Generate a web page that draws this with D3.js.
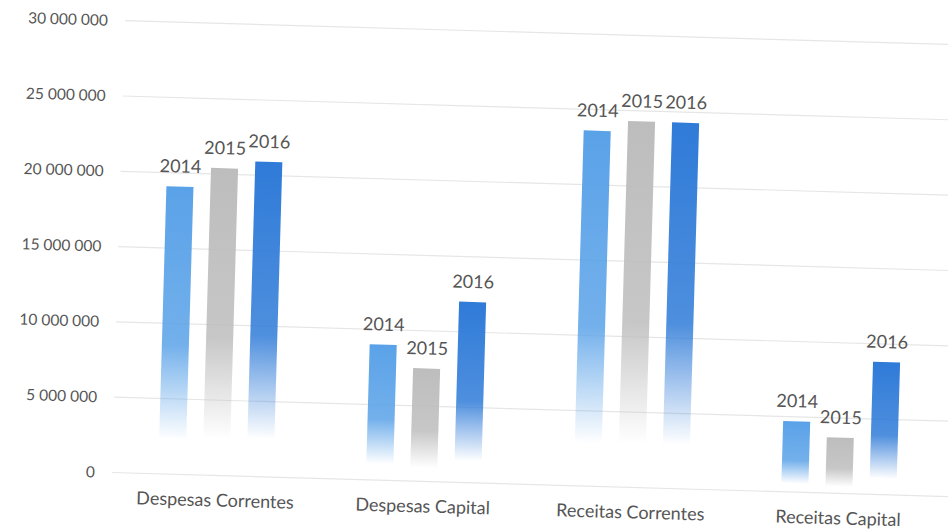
<!DOCTYPE html>
<html>
<head>
<meta charset="utf-8">
<script src="https://cdn.jsdelivr.net/npm/d3@7"></script>
<style>
  body { margin: 0; background: #fff; }
  text { font-family: Lato, "Open Sans", sans-serif; fill: #555555; }
</style>
</head>
<body>
<div id="chart"></div>
<script>
const categories = ["Despesas Correntes", "Despesas Capital", "Receitas Correntes", "Receitas Capital"];
const years = ["2014", "2015", "2016"];
const values2014 = [19100000, 9000000, 23600000, 4700000];
const values2015 = [20400000, 7500000, 24300000, 3700000];
const values2016 = [20900000, 12000000, 24300000, 8800000];
const yTicks = [0, 5000000, 10000000, 15000000, 20000000, 25000000, 30000000];
const yearColors = ["#5aa2e8", "#bdbdbd", "#2f7bd8"];

const seriesByYear = [values2014, values2015, values2016];
const data = categories.map((c, i) => ({
  category: c,
  bars: years.map((y, j) => ({ year: y, value: seriesByYear[j][i], color: j }))
}));

const width = 948, height = 531;

const svg = d3
  .select("#chart")
  .append("svg")
  .attr("width", width)
  .attr("height", height);

// the scan is slightly tilted, so the whole chart is turned a little
const root = svg.append("g").attr("transform", "rotate(1.65,480,265)");

const defs = svg.append("defs");
yearColors.forEach((col, i) => {
  const g = defs
    .append("linearGradient")
    .attr("id", "fade" + i)
    .attr("x1", 0).attr("y1", 0)
    .attr("x2", 0).attr("y2", 1);
  g.append("stop").attr("offset", 0).attr("stop-color", col).attr("stop-opacity", 1);
  g.append("stop").attr("offset", 0.55).attr("stop-color", col).attr("stop-opacity", 0.85);
  g.append("stop").attr("offset", 0.88).attr("stop-color", col).attr("stop-opacity", 0);
});

const y = d3.scaleLinear().domain([0, 30000000]).range([483, 31]);

const x0 = d3.scaleBand().domain(categories).range([118, 949]).padding(0);

const x1 = d3
  .scaleBand()
  .domain(years)
  .range([0, x0.bandwidth()])
  .paddingInner(0.386)
  .paddingOuter(1.05);

const fmt = (v) => d3.format(",")(v).replace(/,/g, " ");

// gridlines
root
  .append("g")
  .selectAll("line")
  .data(yTicks)
  .join("line")
  .attr("x1", 118)
  .attr("x2", 960)
  .attr("y1", (d) => y(d))
  .attr("y2", (d) => y(d))
  .attr("stroke", "#e6e6e6")
  .attr("stroke-width", 1.2);

// y axis labels
const yAxis = root
  .append("g")
  .attr("transform", "translate(101,0)")
  .call(d3.axisLeft(y).tickValues(yTicks).tickSize(0).tickPadding(0).tickFormat(fmt));
yAxis.select(".domain").remove();
yAxis.selectAll("text").style("font-size", "15.5px").attr("fill", "#555555");

const groups = root
  .append("g")
  .selectAll("g")
  .data(data)
  .join("g")
  .attr("transform", (d) => `translate(${x0(d.category)},0)`);

groups
  .selectAll("rect")
  .data((d) => d.bars)
  .join("rect")
  .attr("x", (d) => x1(d.year))
  .attr("y", (d) => y(d.value))
  .attr("width", x1.bandwidth())
  .attr("height", (d) => y(0) - y(d.value))
  .attr("fill", (d) => `url(#fade${d.color})`);

groups
  .selectAll("text.year")
  .data((d) => d.bars)
  .join("text")
  .attr("class", "year")
  .attr("x", (d) => x1(d.year) + x1.bandwidth() / 2)
  .attr("y", (d) => y(d.value) - 14)
  .style("text-anchor", "middle")
  .style("font-size", "18px")
  .text((d) => d.year);

// category labels
root
  .append("g")
  .selectAll("text")
  .data(categories)
  .join("text")
  .attr("x", (d) => x0(d) + x0.bandwidth() / 2)
  .attr("y", 514)
  .style("text-anchor", "middle")
  .style("font-size", "18px")
  .text((d) => d);
</script>
</body>
</html>
